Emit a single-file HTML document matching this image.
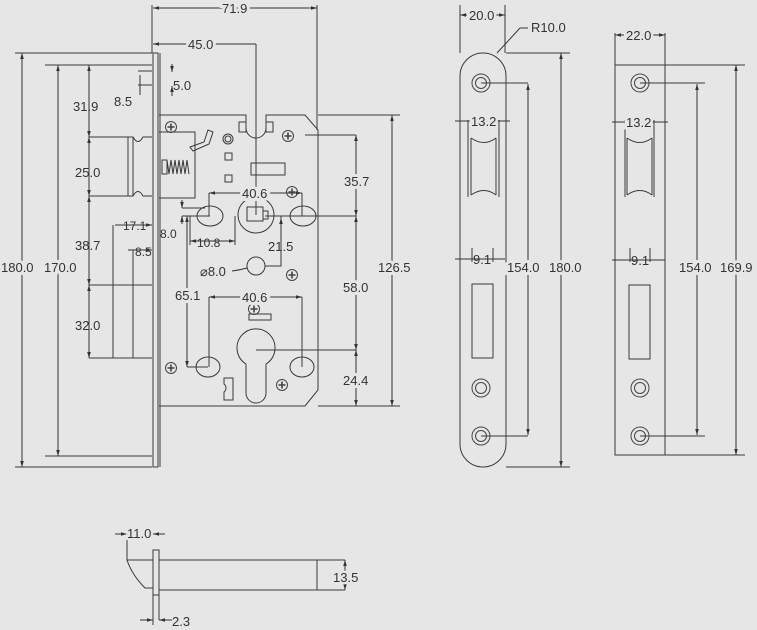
<!DOCTYPE html>
<html><head><meta charset="utf-8"><style>
html,body{margin:0;padding:0;background:#e6e6e6;}
svg{display:block;}
text{font-family:"Liberation Sans",sans-serif;font-size:13px;fill:#333;}
</style></head><body>
<svg width="757" height="630" viewBox="0 0 757 630" xmlns="http://www.w3.org/2000/svg">
<defs>
<marker id="a" viewBox="0 0 10 10" refX="10" refY="5" markerWidth="6" markerHeight="6" orient="auto-start-reverse"><path d="M0,2 L10,5 L0,8z" fill="#333"/></marker>
<g id="scr"><circle r="5.5" fill="none" stroke="#444" stroke-width="1"/><path d="M-3.5,0H3.5M0,-3.5V3.5" stroke="#444" stroke-width="1.6"/></g>
<g id="hole"><circle r="9" fill="none" stroke="#444"/><circle r="5.5" fill="none" stroke="#444"/></g>
</defs>
<g fill="none" stroke="#3a3a3a" stroke-width="1">
<rect x="153" y="53" width="5" height="414"/>
<line x1="160" y1="53" x2="160" y2="467"/>
<path d="M159,115H246V128A10,10 0 0 0 266,128V115H305L318,130V390L305,406H159"/>
<rect x="239" y="122" width="7" height="10"/><rect x="266" y="122" width="7" height="10"/>
<path d="M159,132H195V198H159"/>
<rect x="162" y="160" width="5" height="14"/>
<path d="M167,160 l2,14 l2,-14 l2,14 l2,-14 l2,14 l2,-14 l2,14 l2,-14 l2,14 l2,-14 l2,14"/>
<path d="M190,147 l14,-5 l4,-12 l5,2 l-4,12 l-16,7z"/>
<circle cx="228" cy="139" r="5"/><circle cx="228" cy="139" r="3"/>
<rect x="225" y="153" width="7" height="7"/><rect x="225" y="175" width="7" height="7"/>
<rect x="251" y="163" width="34" height="12"/><line x1="256" y1="163" x2="256" y2="175"/>
<circle cx="256" cy="215" r="18"/>
<rect x="247" y="207" width="16" height="14"/><rect x="263" y="211" width="5" height="8"/>
<ellipse cx="210" cy="216" rx="13" ry="10"/><ellipse cx="303" cy="216" rx="13" ry="10"/>
<circle cx="256" cy="266" r="9"/>
<rect x="249" y="314" width="22" height="6"/>
<path d="M246,364 A19,19 0 1 1 266,364 V393 A10,10 0 0 1 246,393 Z"/>
<ellipse cx="208" cy="367" rx="12" ry="10"/><ellipse cx="302" cy="367" rx="12" ry="10"/>
<path d="M224,378H233V400H224V392A5,5 0 0 0 224,384Z"/>
<path d="M92,137H128V196H92"/>
<path d="M128,137H133Q138,146 143,137H152M128,196H133Q138,187 143,196H152M133,137V196"/>
<line x1="113" y1="225" x2="113" y2="358"/><line x1="133" y1="250" x2="133" y2="358"/>
<path d="M89,358H152M89,285H152M89,196H92M89,137H92"/>
<path d="M138,71H152M138,85H152"/>
<path d="M152,5V53M317,5V130M256,44V215M15,53H152M15,467H152M45,65H152M45,456H152"/>
<path d="M318,115H400M318,406H400M305,135H356M265,216H356M256,350H356"/>
<path d="M209,193V216M302,193V216M209,297V367M302,297V367M187,216H210M187,367H208"/>
<path d="M281,216V266H265"/>
<path d="M182,208H205M182,216H190"/>
<path d="M190,216V245M235,216V245"/>
</g>
<g stroke="#333" stroke-width="1" fill="none">
<line x1="153" y1="8" x2="317" y2="8" marker-start="url(#a)" marker-end="url(#a)"/>
<line x1="153" y1="44" x2="256" y2="44" marker-start="url(#a)"/>
<line x1="22" y1="53" x2="22" y2="467" marker-start="url(#a)" marker-end="url(#a)"/>
<line x1="58" y1="65" x2="58" y2="456" marker-start="url(#a)" marker-end="url(#a)"/>
<line x1="89" y1="65" x2="89" y2="137" marker-start="url(#a)" marker-end="url(#a)"/>
<line x1="89" y1="137" x2="89" y2="196" marker-start="url(#a)" marker-end="url(#a)"/>
<line x1="89" y1="196" x2="89" y2="285" marker-start="url(#a)" marker-end="url(#a)"/>
<line x1="89" y1="285" x2="89" y2="358" marker-start="url(#a)" marker-end="url(#a)"/>
<line x1="115" y1="225" x2="152" y2="225" marker-end="url(#a)"/>
<line x1="128" y1="250" x2="152" y2="250" marker-end="url(#a)"/>
<line x1="140" y1="75" x2="140" y2="95"/><line x1="172" y1="64" x2="172" y2="72" marker-end="url(#a)"/><line x1="172" y1="96" x2="172" y2="86" marker-end="url(#a)"/>
<line x1="209" y1="193" x2="302" y2="193" marker-start="url(#a)" marker-end="url(#a)"/>
<line x1="209" y1="297" x2="302" y2="297" marker-start="url(#a)" marker-end="url(#a)"/>
<line x1="356" y1="135" x2="356" y2="216" marker-start="url(#a)" marker-end="url(#a)"/>
<line x1="356" y1="216" x2="356" y2="350" marker-start="url(#a)" marker-end="url(#a)"/>
<line x1="356" y1="350" x2="356" y2="406" marker-start="url(#a)" marker-end="url(#a)"/>
<line x1="392" y1="115" x2="392" y2="406" marker-start="url(#a)" marker-end="url(#a)"/>
<line x1="281" y1="240" x2="281" y2="218" marker-end="url(#a)"/>
<line x1="187" y1="216" x2="187" y2="367" marker-start="url(#a)" marker-end="url(#a)"/>
<line x1="182" y1="200" x2="182" y2="208" marker-end="url(#a)"/>
<line x1="182" y1="224" x2="182" y2="216" marker-end="url(#a)"/>
<line x1="190" y1="241" x2="235" y2="241" marker-start="url(#a)" marker-end="url(#a)"/>
<path d="M232,271 Q240,270 247,268"/>
</g>
<g>
<use href="#scr" x="171" y="127"/><use href="#scr" x="288" y="136"/><use href="#scr" x="292" y="192"/>
<use href="#scr" x="292" y="275"/><use href="#scr" x="254" y="309"/><use href="#scr" x="171" y="368"/><use href="#scr" x="282" y="385"/>
</g>
<g>
<text x="222" y="13" stroke="#e6e6e6" stroke-width="6" style="paint-order:stroke">71.9</text>
<text x="188" y="49" stroke="#e6e6e6" stroke-width="6" style="paint-order:stroke">45.0</text>
<text x="173" y="90">5.0</text><text x="114" y="106">8.5</text>
<text x="73" y="111">31.9</text><text x="75" y="177">25.0</text><text x="75" y="250">38.7</text><text x="75" y="330">32.0</text>
<text x="1" y="272" stroke="#e6e6e6" stroke-width="6" style="paint-order:stroke">180.0</text>
<text x="44" y="272" stroke="#e6e6e6" stroke-width="6" style="paint-order:stroke">170.0</text>
<text x="123" y="230" style="font-size:12px">17.1</text><text x="135" y="256" style="font-size:12px">8.5</text>
<text x="242" y="198" stroke="#e6e6e6" stroke-width="6" style="paint-order:stroke">40.6</text>
<text x="242" y="302" stroke="#e6e6e6" stroke-width="6" style="paint-order:stroke">40.6</text>
<text x="344" y="186" stroke="#e6e6e6" stroke-width="6" style="paint-order:stroke">35.7</text>
<text x="343" y="292" stroke="#e6e6e6" stroke-width="6" style="paint-order:stroke">58.0</text>
<text x="343" y="385" stroke="#e6e6e6" stroke-width="6" style="paint-order:stroke">24.4</text>
<text x="378" y="272" stroke="#e6e6e6" stroke-width="6" style="paint-order:stroke">126.5</text>
<text x="268" y="251">21.5</text><text x="175" y="300" stroke="#e6e6e6" stroke-width="6" style="paint-order:stroke">65.1</text>
<text x="160" y="238" style="font-size:12px">8.0</text><text x="197" y="247" style="font-size:12px">10.8</text>
<text x="200" y="276">⌀8.0</text>
</g>
<g fill="none" stroke="#3a3a3a">
<rect x="460" y="53" width="46" height="414" rx="23"/>
<path d="M468,120V197M499,120V197M471,138V195M496,138V195M471,138Q484,147 496,138M471,195Q484,186 496,195"/>
<rect x="472" y="284" width="21" height="74"/>
<path d="M460,5V53M505,5V53M472,248V262M493,248V262"/>
<path d="M481,83H528M481,436H528M506,53H570M506,467H570"/>
<path d="M497,53L520,28H528"/>
</g>
<use href="#hole" x="481" y="83"/><use href="#hole" x="481" y="388"/><use href="#hole" x="481" y="436"/>
<g stroke="#333" fill="none">
<line x1="460" y1="15" x2="505" y2="15" marker-start="url(#a)" marker-end="url(#a)"/>
<line x1="455" y1="121" x2="510" y2="121"/>
<line x1="455" y1="259" x2="505" y2="259"/>
<line x1="528" y1="84" x2="528" y2="435" marker-start="url(#a)" marker-end="url(#a)"/>
<line x1="561" y1="53" x2="561" y2="467" marker-start="url(#a)" marker-end="url(#a)"/>
</g>
<text x="469" y="20" stroke="#e6e6e6" stroke-width="5" style="paint-order:stroke">20.0</text>
<text x="531" y="32">R10.0</text>
<text x="471" y="126" stroke="#e6e6e6" stroke-width="5" style="paint-order:stroke">13.2</text>
<text x="473" y="264">9.1</text>
<text x="507" y="272" stroke="#e6e6e6" stroke-width="6" style="paint-order:stroke">154.0</text>
<text x="549" y="272" stroke="#e6e6e6" stroke-width="6" style="paint-order:stroke">180.0</text>
<g fill="none" stroke="#3a3a3a">
<rect x="615" y="65" width="50" height="390"/>
<line x1="665" y1="33" x2="665" y2="65"/><line x1="615" y1="33" x2="615" y2="65"/>
<path d="M625,120V197M654,120V197M627,138V195M652,138V195M627,138Q640,147 652,138M627,195Q640,186 652,195"/>
<rect x="629" y="285" width="21" height="74"/>
<path d="M630,248V262M650,248V262"/>
<path d="M640,83H705M640,436H705M665,65H745M665,455H745"/>
</g>
<use href="#hole" x="640" y="83"/><use href="#hole" x="640" y="388"/><use href="#hole" x="640" y="436"/>
<g stroke="#333" fill="none">
<line x1="615" y1="35" x2="665" y2="35" marker-start="url(#a)" marker-end="url(#a)"/>
<line x1="612" y1="122" x2="668" y2="122"/>
<line x1="612" y1="260" x2="665" y2="260"/>
<line x1="697" y1="84" x2="697" y2="435" marker-start="url(#a)" marker-end="url(#a)"/>
<line x1="736" y1="65" x2="736" y2="455" marker-start="url(#a)" marker-end="url(#a)"/>
</g>
<text x="626" y="40" stroke="#e6e6e6" stroke-width="5" style="paint-order:stroke">22.0</text>
<text x="626" y="127" stroke="#e6e6e6" stroke-width="5" style="paint-order:stroke">13.2</text>
<text x="631" y="265">9.1</text>
<text x="679" y="272" stroke="#e6e6e6" stroke-width="6" style="paint-order:stroke">154.0</text>
<text x="720" y="272" stroke="#e6e6e6" stroke-width="6" style="paint-order:stroke">169.9</text>
<g fill="none" stroke="#3a3a3a">
<rect x="153" y="550" width="6" height="45"/>
<path d="M159,560H317V590H159M317,560V590M127,532V560H153M127,560Q132,575 145,588H153"/>
<path d="M153,595V625M159,595V620"/>
<path d="M317,560H345M317,590H345"/>
</g>
<g stroke="#333" fill="none">
<line x1="115" y1="534" x2="127" y2="534" marker-end="url(#a)"/>
<line x1="165" y1="534" x2="153" y2="534" marker-end="url(#a)"/>
<line x1="140" y1="620" x2="153" y2="620" marker-end="url(#a)"/>
<line x1="172" y1="620" x2="159" y2="620" marker-end="url(#a)"/>
<line x1="345" y1="560" x2="345" y2="590" marker-start="url(#a)" marker-end="url(#a)"/>
</g>
<text x="127" y="538" stroke="#e6e6e6" stroke-width="4" style="paint-order:stroke">11.0</text>
<text x="333" y="582" stroke="#e6e6e6" stroke-width="5" style="paint-order:stroke">13.5</text>
<text x="172" y="626">2.3</text>
</svg>
</body></html>
